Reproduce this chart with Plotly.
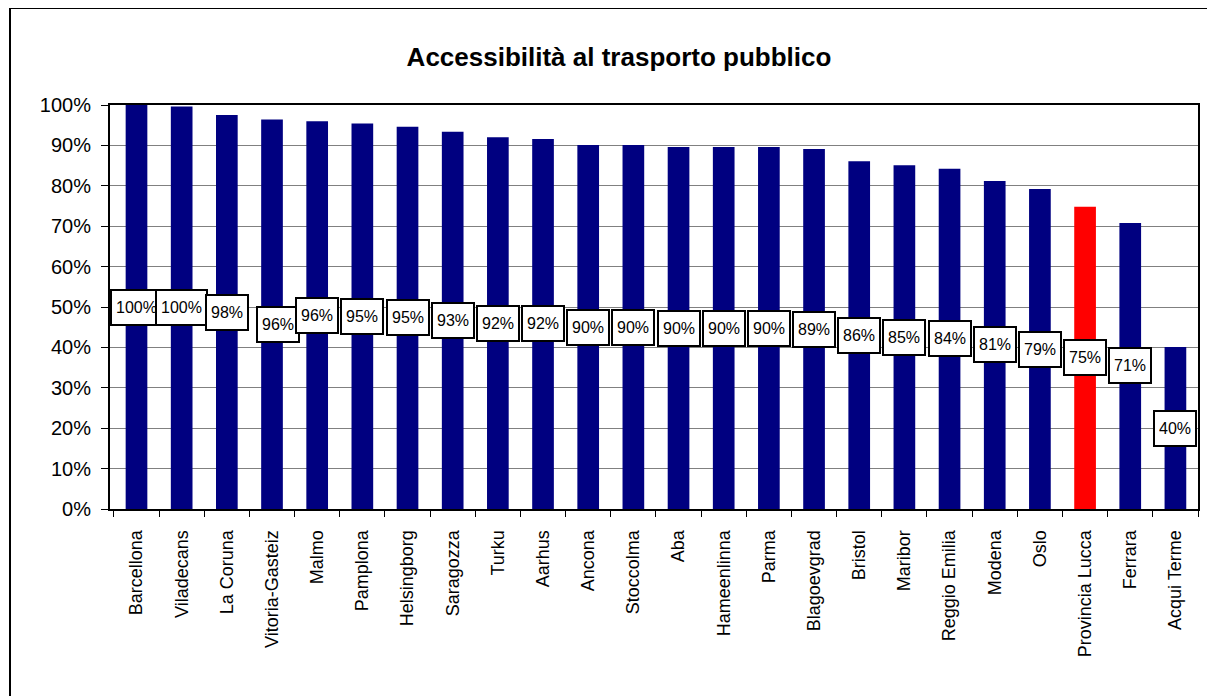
import plotly.graph_objects as go

cities = ["Barcellona", "Viladecans", "La Coruna", "Vitoria-Gasteiz", "Malmo", "Pamplona",
          "Helsingborg", "Saragozza", "Turku", "Aarhus", "Ancona", "Stoccolma", "Aba",
          "Hameenlinna", "Parma", "Blagoevgrad", "Bristol", "Maribor", "Reggio Emilia",
          "Modena", "Oslo", "Provincia Lucca", "Ferrara", "Acqui Terme"]
values = [100.0, 99.6, 97.5, 96.4, 96.0, 95.4, 94.6, 93.4, 92.0, 91.6, 90.1, 90.1, 89.6,
          89.6, 89.6, 89.1, 86.1, 85.1, 84.2, 81.2, 79.2, 74.8, 70.8, 40.1]
highlight = "Provincia Lucca"
y_ticks = list(range(0, 101, 10))

NAVY = "#000080"
RED = "#FF0000"
FONT = "Arial, Liberation Sans, sans-serif"

OFF = 8  # page body margin
W, H = 1215, 696
ML, MR, MT, MB = 110 - OFF, 17 + OFF, 105 - OFF, 187 + OFF
PW, PH = W - ML - MR, H - MT - MB

colors = [RED if c == highlight else NAVY for c in cities]

fig = go.Figure()
fig.add_trace(go.Bar(x=cities, y=values, marker=dict(color=colors, line=dict(width=0)),
                     hoverinfo="x+y"))

nudge = {"Vitoria-Gasteiz": (6, -10)}
for c, v in zip(cities, values):
    dx, dy = nudge.get(c, (0, 0))
    fig.add_annotation(x=c, y=v / 2, text=f"{round(v):d}%", showarrow=False,
                       xshift=dx, yshift=dy,
                       font=dict(family=FONT, size=16, color="black"),
                       bgcolor="white", bordercolor="black", borderwidth=2,
                       borderpad=4, height=25)

def px(xp):
    return (xp - OFF - ML) / PW

def py(yp):
    return (H - MB - (yp - OFF)) / PH

fig.add_shape(type="rect", xref="paper", yref="paper",
              x0=px(10), x1=px(1230), y0=py(710), y1=py(8),
              line=dict(color="black", width=2), fillcolor="rgba(0,0,0,0)", layer="below")

fig.update_layout(
    width=W, height=H,
    margin=dict(l=ML, r=MR, t=MT, b=MB, autoexpand=False),
    paper_bgcolor="white", plot_bgcolor="white",
    bargap=0.52, showlegend=False,
    title=dict(text="<b>Accessibilità al trasporto pubblico</b>",
               x=((404 + 834) / 2 - OFF) / W,
               xanchor="center", y=1 - (57 - OFF) / H, yanchor="middle", yref="container",
               font=dict(family=FONT, size=26, color="black")),
    font=dict(family=FONT, color="black"),
)
fig.update_xaxes(showline=True, mirror=True, linecolor="black", linewidth=2,
                 ticks="outside", tickson="boundaries", ticklen=6, tickcolor="black",
                 tickwidth=1, tickangle=-90, tickfont=dict(family=FONT, size=18),
                 showgrid=False, ticklabelstandoff=12)
fig.update_yaxes(range=[0, 100], tickvals=y_ticks, ticktext=[f"{t}%" for t in y_ticks],
                 showline=True, mirror=True, linecolor="black", linewidth=2,
                 ticks="outside", ticklen=7, tickcolor="black", tickwidth=1,
                 tickfont=dict(family=FONT, size=20),
                 showgrid=True, gridcolor="#808080", gridwidth=1, zeroline=False,
                 ticklabelstandoff=6)

fig.write_html("out.html")
